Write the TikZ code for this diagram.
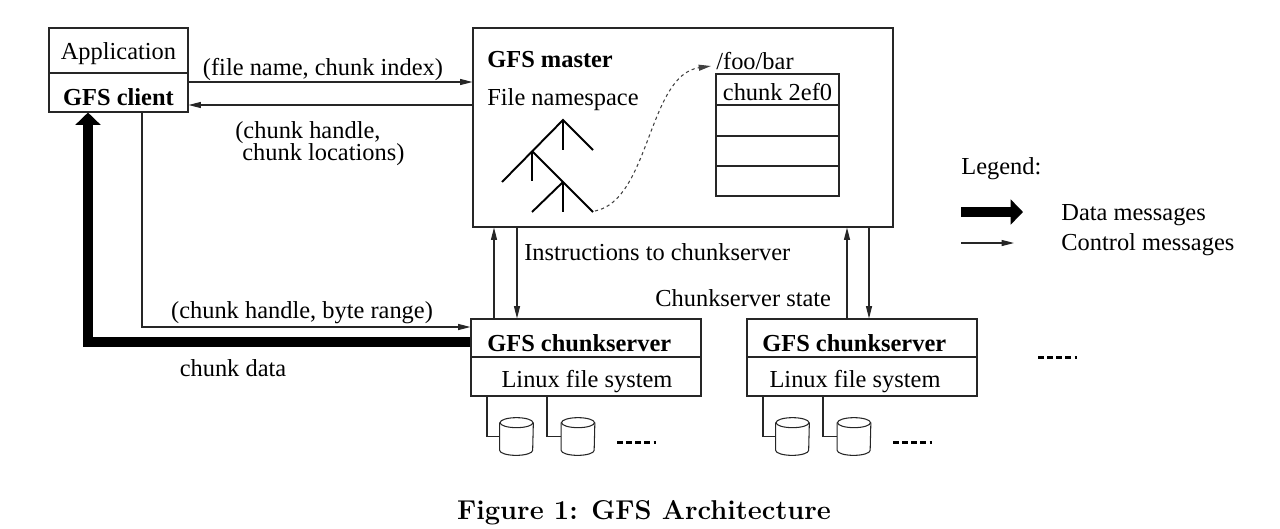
\documentclass[tikz,border=0pt]{standalone}
\usepackage{fontspec}
\newfontfamily\tms{Liberation Serif}
\usetikzlibrary{arrows.meta,fit,calc}
\begin{document}
\begin{tikzpicture}[x=0.02cm,y=-0.02cm,
  font=\tms\fontsize{13.9}{16}\selectfont,
  box/.style={draw=black!85, line width=0.6pt, inner sep=0pt},
  ctrl/.style={draw=black!85, line width=0.6pt, -{Triangle[length=7pt,width=3.4pt]}},
  data/.style={line width=5.7pt, line join=miter, -{Triangle[length=7pt,width=14pt]}},
  txt/.style={inner sep=0pt, anchor=west},
  ctxt/.style={inner sep=0pt},
  bf/.style={font=\tms\fontsize{13.9}{16}\selectfont\bfseries},
  tree/.style={line width=1.1pt},
  dots/.style={line width=1.7pt, dash pattern=on 3.2pt off 2pt},
  diskline/.style={draw=black!85, line width=0.6pt},
  diskbox/.style={inner sep=0pt, minimum width=0.66cm, minimum height=0.74cm}]
\useasboundingbox (0,0) rectangle (1280,528);

% client
\node[box, fit={(49,28)(188,73)}] (app) {};
\node[ctxt] at ($(app.center)+(0,3)$) {Application};
\node[box, fit={(49,73)(188,112)}] (client) {};
\node[ctxt, bf] at ($(client.center)+(0,5)$) {GFS client};

% master
\node[box, fit={(473,28)(893,227)}] (master) {};
\node[txt, bf] (mt) at (487,60) {GFS master};
\node[txt] (ns) at (487,100) {File namespace};
\node[txt] (foo) at (716,61) {/foo/bar};
\node[box, fit={(716,74)(839,105)}] (row1) {};
\node[ctxt] at ($(row1.center)+(0,2.5)$) {chunk 2ef0};
\node[box, fit={(716,105)(839,136)}] (row2) {};
\node[box, fit={(716,136)(839,166)}] (row3) {};
\node[box, fit={(716,166)(839,196)}] (row4) {};

% tree
\draw[tree] (502,182) -- (563,120) -- (593,150);
\draw[tree] (563,120) -- (563,150);
\draw[tree] (532,151) -- (532,181);
\draw[tree] (532,151) -- (593,212);
\draw[tree] (563,182) -- (563,212);
\draw[tree] (563,182) -- (532,212);
\coordinate (tend) at (595,211);
\coordinate (fooin) at (711,66);
\draw[draw=black!75, line width=0.6pt, dash pattern=on 1.8pt off 1.8pt,
  -{Triangle[length=7pt,width=3.4pt]}]
  (tend) .. controls (650,200) and (648,75) .. (fooin);

% chunkservers
\node[box, fit={(471,319)(701,357)}] (cs1) {};
\node[box, fit={(471,357)(701,396)}] (fs1) {};
\node[txt, bf] at (487,343) {GFS chunkserver};
\node[ctxt] at (587,382) {Linux file system};
\node[box, fit={(747,319)(977,357)}] (cs2) {};
\node[box, fit={(747,357)(977,396)}] (fs2) {};
\node[txt, bf] at (762,343) {GFS chunkserver};
\node[ctxt] at (855,382) {Linux file system};

% disks
\newcommand\drawdisk[3]{%
  \node[diskbox] (#1) at (#2,#3) {};
  \draw[diskline] ($(#1.north)+(0,5)$) ellipse [x radius=16.5, y radius=5];
  \draw[diskline] ($(#1.north west)+(0,5)$) -- ($(#1.south west)+(0,-5)$)
    arc[start angle=180, end angle=0, x radius=16.5, y radius=5]
    -- ($(#1.north east)+(0,5)$);}
\drawdisk{d1}{516.5}{436.5}
\drawdisk{d2}{578}{436.5}
\drawdisk{d3}{792.5}{436.5}
\drawdisk{d4}{854}{436.5}
\draw[diskline] (fs1.south -| 487,0) |- (d1.west);
\draw[diskline] (fs1.south -| 547,0) |- (d2.west);
\draw[diskline] (fs2.south -| 763,0) |- (d3.west);
\draw[diskline] (fs2.south -| 823,0) |- (d4.west);
\draw[dots] (617,442) -- (656,442);
\draw[dots] (893,442) -- (932,442);
\draw[dots] (1038,357) -- (1077,357);

% control arrows
\draw[ctrl] (client.east |- 0,82) -- (master.west |- 0,82);
\draw[ctrl] (master.west |- 0,105) -- (client.east |- 0,105);
\draw[ctrl] (cs1.north -| 494,0) -- (master.south -| 494,0);
\draw[ctrl] (master.south -| 517,0) -- (cs1.north -| 517,0);
\draw[ctrl] (cs2.north -| 847,0) -- (master.south -| 847,0);
\draw[ctrl] (master.south -| 869,0) -- (cs2.north -| 869,0);
\draw[ctrl] (client.south -| 142,0) |- (cs1.west |- 0,327);
\draw[data] (cs1.west |- 0,342) -| (client.south -| 88,0);

% labels
\node[ctxt] (l1) at (323,69) {(file name, chunk index)};
\node[txt] (l2) at (235,133) {(chunk handle,};
\node[txt] (l3) at (242,155) {chunk locations)};
\node[txt] (l4) at (524,252) {Instructions to chunkserver};
\node[txt] (l5) at (655,298) {Chunkserver state};
\node[ctxt] (l6) at (302,313) {(chunk handle, byte range)};
\node[ctxt] (l7) at (233,368) {chunk data};

% legend
\node[txt] (lg) at (961,169) {Legend:};
\coordinate (la) at (961,212);
\coordinate (lb) at (1023,212);
\draw[data] (la) -- (lb);
\coordinate (lc) at (961,243);
\coordinate (ld) at (1014,243);
\draw[ctrl] (lc) -- (ld);
\node[txt] (dm) at (1061,215) {Data messages};
\node[txt] (cm) at (1061,245) {Control messages};

% caption
\node[ctxt, font=\normalfont\fontsize{15.5}{18}\selectfont\bfseries] (cap) at (644,513) {Figure 1: GFS Architecture};
\end{tikzpicture}
\end{document}
